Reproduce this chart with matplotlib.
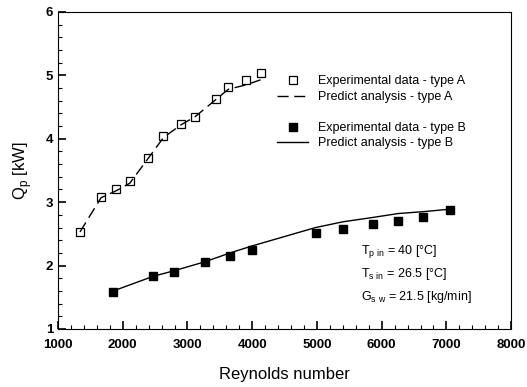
#!/usr/bin/env python3
"""Heat transfer rate Q_p vs Reynolds number, type A and type B."""

import matplotlib
matplotlib.use("Agg")
import matplotlib.pyplot as plt
from matplotlib.ticker import MultipleLocator

plt.rcParams["font.family"] = ["Liberation Sans", "DejaVu Sans"]

# type A: experimental data and prediction
re_a = [1340, 1665, 1896, 2113, 2396, 2628, 2901, 3117, 3442, 3632, 3906, 4133]
qp_a = [2.53, 3.08, 3.20, 3.33, 3.70, 4.04, 4.24, 4.35, 4.63, 4.81, 4.92, 5.03]
re_a_pred = [1340, 1665, 1900, 2110, 2400, 2630, 2900, 3120, 3440, 3630, 3900, 4130]
qp_a_pred = [2.53, 3.07, 3.18, 3.30, 3.70, 4.02, 4.22, 4.35, 4.62, 4.78, 4.85, 4.93]

# type B: experimental data and prediction
re_b = [1855, 2473, 2798, 3272, 3658, 3993, 4983, 5400, 5873, 6250, 6636, 7059]
qp_b = [1.58, 1.84, 1.90, 2.06, 2.15, 2.24, 2.51, 2.58, 2.65, 2.71, 2.77, 2.88]
re_b_pred = [1855, 2470, 2800, 3270, 3660, 4000, 4980, 5400, 5870, 6250, 6640, 7060]
qp_b_pred = [1.60, 1.83, 1.92, 2.06, 2.20, 2.31, 2.60, 2.69, 2.76, 2.82, 2.85, 2.89]


def main() -> None:
    fig = plt.figure(figsize=(5.27, 3.87), dpi=100)
    ax = fig.add_axes([0.110, 0.150, 0.860, 0.819])

    ax.plot(re_a, qp_a, ls="none", marker="s", ms=5.5, mfc="white", mec="black",
            mew=0.9, label="Experimental data - type A")
    ax.plot(re_a_pred, qp_a_pred, ls=(0, (8, 4)), color="black", lw=1.0,
            label="Predict analysis - type A")
    ax.plot([], [], ls="none", label=" ")
    ax.plot(re_b, qp_b, ls="none", marker="s", ms=5.5, mfc="black", mec="black",
            label="Experimental data - type B")
    ax.plot(re_b_pred, qp_b_pred, ls="-", color="black", lw=1.0,
            label="Predict analysis - type B")

    ax.set_xlim(1000, 8000)
    ax.set_ylim(1, 6)
    ax.xaxis.set_major_locator(MultipleLocator(1000))
    ax.xaxis.set_minor_locator(MultipleLocator(200))
    ax.yaxis.set_major_locator(MultipleLocator(1))
    ax.yaxis.set_minor_locator(MultipleLocator(0.2))
    ax.tick_params(which="both", direction="in", top=False, right=False)
    ax.tick_params(which="major", length=6, width=1.2, labelsize=9.5)
    ax.tick_params(which="minor", length=3, width=0.8)
    ax.tick_params(axis="x", which="major", pad=7)
    for lab in ax.get_xticklabels() + ax.get_yticklabels():
        lab.set_fontweight("bold")

    ax.set_xlabel("Reynolds number", fontsize=12, labelpad=12)
    ax.set_ylabel(r"Q$_\mathregular{p}$ [kW]", fontsize=12, labelpad=8)

    ax.legend(loc="upper left", bbox_to_anchor=(0.483, 0.80), frameon=False,
              fontsize=9, handlelength=2.5, handletextpad=0.8,
              labelspacing=0.28, borderpad=0, borderaxespad=0)

    ax.text(0.669, 0.272,
            "T$_\\mathregular{p\\ in}$ = 40 [\u00b0C]\n"
            "T$_\\mathregular{s\\ in}$ = 26.5 [\u00b0C]\n"
            "G$_\\mathregular{s\\ w}$ = 21.5 [kg/min]",
            transform=ax.transAxes, fontsize=9, va="top", ha="left",
            linespacing=1.6)

    fig.savefig("out.png", dpi=100)
    plt.close(fig)


if __name__ == "__main__":
    main()
